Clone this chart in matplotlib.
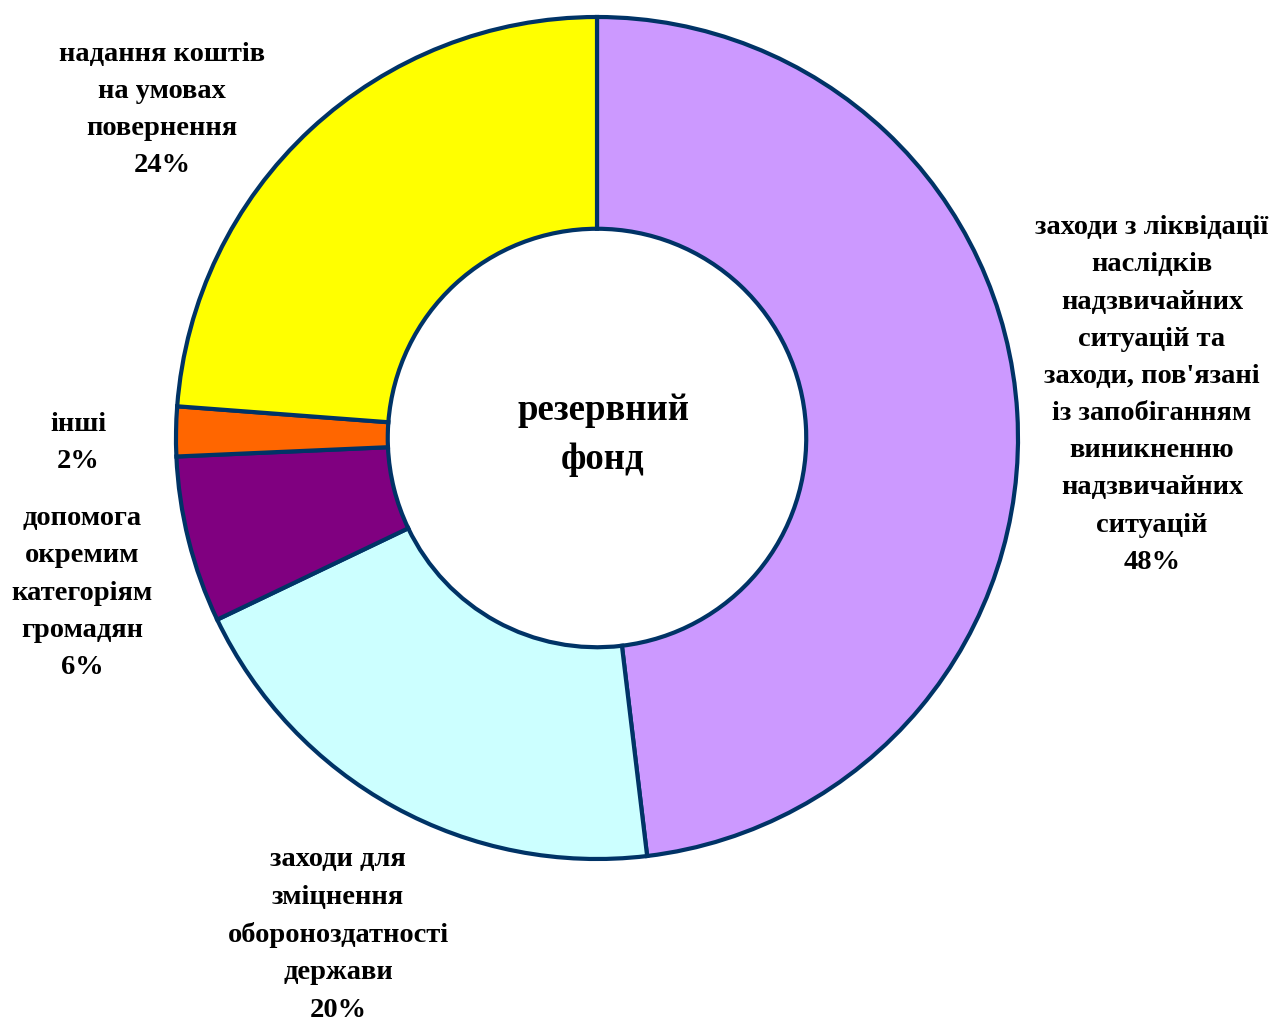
import matplotlib.pyplot as plt

# reserve fund structure, clockwise from top
labels = [
    "заходи з ліквідації\nнаслідків\nнадзвичайних\nситуацій та\nзаходи, пов'язані\nіз запобіганням\nвиникненню\nнадзвичайних\nситуацій",
    "заходи для\nзміцнення\nобороноздатності\nдержави",
    "допомога\nокремим\nкатегоріям\nгромадян",
    "інші",
    "надання коштів\nна умовах\nповернення",
]
values = [48.1, 19.8, 6.4, 1.9, 23.8]
pct_text = ["48%", "20%", "6%", "2%", "24%"]
colors = ["#CC99FF", "#CCFFFF", "#800080", "#FF6600", "#FFFF00"]

W, H = 1273, 1018
plt.rcParams['font.family'] = ['Liberation Serif', 'DejaVu Serif']

fig = plt.figure(figsize=(W / 100, H / 100), dpi=100)
ax = fig.add_axes([0, 0, 1, 1])

cx, cy = 597, H - 438
R = 421
ax.pie(values, colors=colors, startangle=90, counterclock=False,
       radius=R, center=(cx, cy),
       wedgeprops=dict(width=R * 0.503, edgecolor="#003366", linewidth=3))
# pie resets limits, so set them after
ax.set_xlim(0, W)
ax.set_ylim(0, H)
ax.set_aspect('equal')
ax.axis('off')

# label positions (pixel coords, middle of text block)
lab_pos = [(1152, 395), (338, 935), (82, 593), (78, 443), (162, 110)]
for lab, p, (x, y) in zip(labels, pct_text, lab_pos):
    ax.text(x, H - y, lab + "\n" + p, ha='center', va='center',
            fontsize=20.5, fontweight='bold', linespacing=1.64)

ax.text(603, H - 435, "резервний\nфонд", ha='center', va='center',
        fontsize=26.5, fontweight='bold', linespacing=1.5)

fig.savefig("out.png", dpi=100)
